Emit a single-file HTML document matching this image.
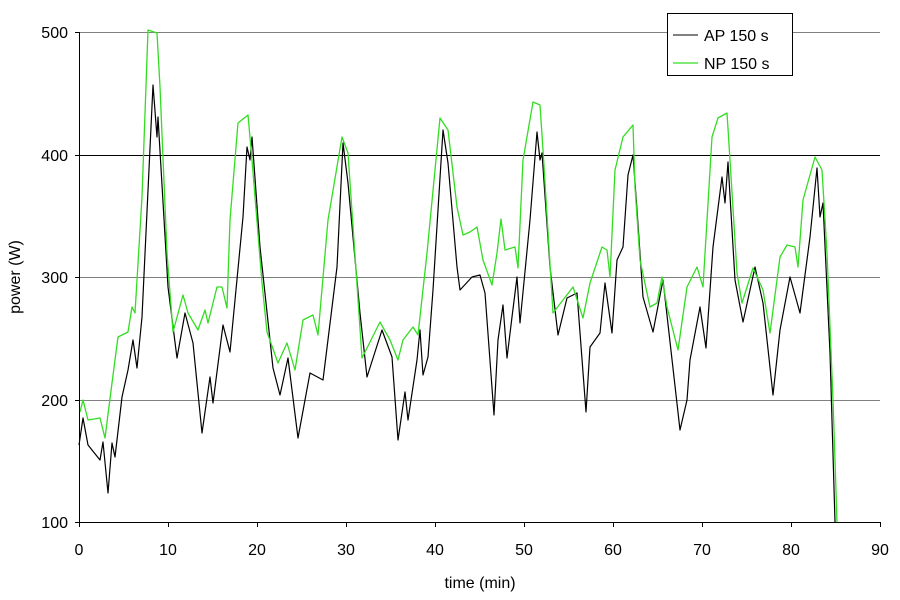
<!DOCTYPE html>
<html><head><meta charset="utf-8"><style>
body{margin:0;background:#fff;}
svg{display:block;font-family:"Liberation Sans",Arial,sans-serif;}
</style></head><body>
<svg width="900" height="600" viewBox="0 0 900 600">
<rect width="900" height="600" fill="#fff"/>
<g stroke-width="1">
<line x1="79" y1="32.5" x2="880" y2="32.5" stroke="#808080"/>
<line x1="79" y1="155.5" x2="880" y2="155.5" stroke="#000"/>
<line x1="79" y1="277.5" x2="880" y2="277.5" stroke="#808080"/>
<line x1="79" y1="400.5" x2="880" y2="400.5" stroke="#808080"/>
</g>
<polyline fill="none" stroke="#000" stroke-width="1.2" stroke-linejoin="round" points="79,445 83,418 88,445 100,460 103,442 108,493 112,443 115,457 122,397 128,370 133,340 137,368 142,317 153,85 157,137 158,117 168,287 177,358 185,313 193,343 202,433 210,377 213,403 223,325 230,352 243,217 247,147 250,160 252,137 260,247 273,368 280,395 288,358 298,438 305,400 310,373 323,380 337,267 343,143 348,183 360,313 367,377 382,330 392,357 398,440 405,392 408,420 417,360 420,330 423,375 428,357 433,290 443,130 448,163 457,267 460,290 472,277 480,275 485,293 494,415 498,340 503,305 507,358 512,317 517,277 520,323 530,220 537,132 540,160 542,153 550,267 558,335 567,298 577,293 586,412 590,347 600,333 605,283 612,333 617,260 623,247 628,175 633,155 637,210 643,297 653,332 663,280 680,430 687,400 690,360 700,307 706,348 713,247 722,177 725,203 728,162 735,280 743,322 755,267 763,303 773,395 780,330 790,277 800,313 810,237 817,168 820,217 823,203 830,353 835,522"/>
<polyline fill="none" stroke="#33dd22" stroke-width="1.3" stroke-linejoin="round" points="80,412 83,400 88,420 100,418 105,438 112,383 118,337 128,332 132,307 135,313 142,197 148,30 157,33 160,87 167,253 173,332 183,295 188,313 198,330 205,310 208,323 217,287 222,287 227,308 230,220 238,123 248,115 252,160 262,283 267,332 278,363 287,343 295,370 303,320 313,315 318,335 328,220 342,137 348,153 362,358 380,322 390,340 398,360 403,340 413,327 418,335 427,253 440,118 448,130 457,207 463,235 470,232 477,227 483,260 492,285 497,253 501,219 505,250 515,247 518,268 523,160 533,102 540,105 543,150 553,313 563,300 573,287 583,318 590,283 602,247 607,250 610,277 615,170 623,137 633,125 635,187 640,260 650,307 657,303 662,277 667,307 678,350 687,287 697,267 703,287 712,137 718,118 727,113 730,160 737,273 742,303 753,268 763,290 770,333 780,257 787,245 795,247 798,267 803,200 815,157 822,170 827,253 833,400 837,522"/>
<g stroke="#000" stroke-width="1">
<line x1="79.5" y1="32" x2="79.5" y2="523"/>
<line x1="79" y1="522.5" x2="880" y2="522.5"/>
<line x1="75" y1="32.5" x2="79" y2="32.5"/>
<line x1="75" y1="155.5" x2="79" y2="155.5"/>
<line x1="75" y1="277.5" x2="79" y2="277.5"/>
<line x1="75" y1="400.5" x2="79" y2="400.5"/>
<line x1="75" y1="522.5" x2="79" y2="522.5"/>
<line x1="79.5" y1="522" x2="79.5" y2="527"/>
<line x1="168.5" y1="522" x2="168.5" y2="527"/>
<line x1="257.5" y1="522" x2="257.5" y2="527"/>
<line x1="346.5" y1="522" x2="346.5" y2="527"/>
<line x1="435.5" y1="522" x2="435.5" y2="527"/>
<line x1="524.5" y1="522" x2="524.5" y2="527"/>
<line x1="613.5" y1="522" x2="613.5" y2="527"/>
<line x1="702.5" y1="522" x2="702.5" y2="527"/>
<line x1="791.5" y1="522" x2="791.5" y2="527"/>
<line x1="880.5" y1="522" x2="880.5" y2="527"/>
</g>
<g font-size="16" fill="#000" text-anchor="end">
<text x="68" y="38">500</text>
<text x="68" y="161">400</text>
<text x="68" y="283">300</text>
<text x="68" y="406">200</text>
<text x="68" y="528">100</text>
</g>
<g font-size="16" fill="#000" text-anchor="middle">
<text x="79" y="555">0</text>
<text x="168" y="555">10</text>
<text x="257" y="555">20</text>
<text x="346" y="555">30</text>
<text x="435" y="555">40</text>
<text x="524" y="555">50</text>
<text x="613" y="555">60</text>
<text x="702" y="555">70</text>
<text x="791" y="555">80</text>
<text x="880" y="555">90</text>
<text x="480" y="588">time (min)</text>
<text transform="translate(20,277) rotate(-90)">power (W)</text>
</g>
<rect x="667.5" y="13.5" width="125" height="62" fill="#fff" stroke="#000"/>
<line x1="673" y1="35" x2="698" y2="35" stroke="#000"/>
<line x1="673" y1="63" x2="698" y2="63" stroke="#33dd22" stroke-width="1.3"/>
<g font-size="16" fill="#000">
<text x="704" y="41">AP 150 s</text>
<text x="704" y="69">NP 150 s</text>
</g>
</svg>
</body></html>
